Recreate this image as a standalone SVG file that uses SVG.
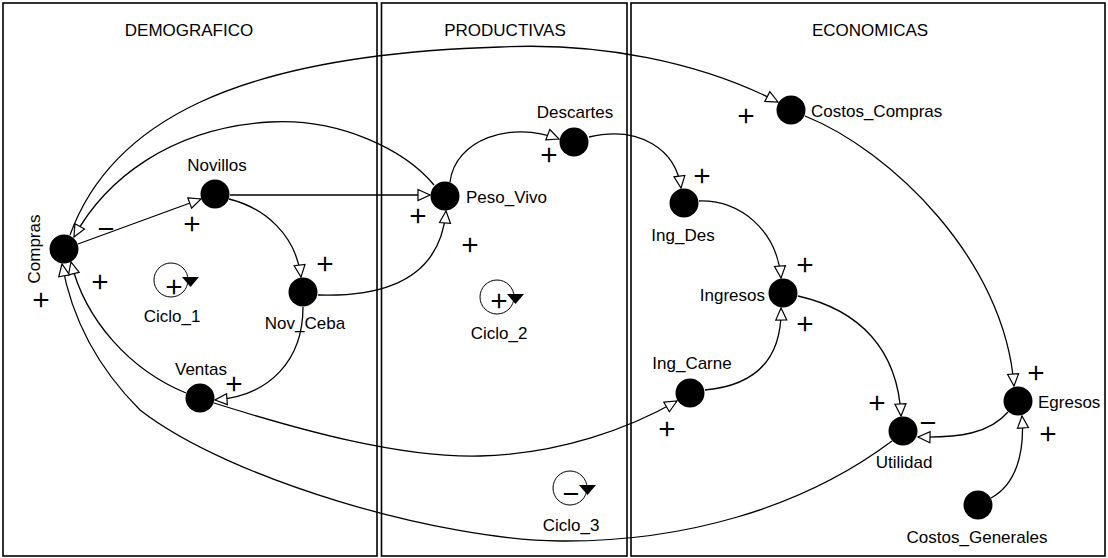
<svg xmlns="http://www.w3.org/2000/svg" width="1108" height="558" viewBox="0 0 1108 558">
<style>
.pn{fill:none;stroke:#000;stroke-width:1.6}
.t{font-family:"Liberation Sans",Arial,sans-serif;font-size:17px;fill:#000}
.c{text-anchor:middle}
.e{text-anchor:end}
.sg{font-family:Inter,"Liberation Sans",Arial,sans-serif;font-weight:300;font-size:32px;fill:#000;text-anchor:middle}
.lk{fill:none;stroke:#000;stroke-width:1.3}
.nd{fill:#000}
.lp{fill:none;stroke:#000;stroke-width:1}
</style>
<defs>
<marker id="ah" markerUnits="userSpaceOnUse" markerWidth="16" markerHeight="14" refX="14" refY="7" orient="auto">
<path d="M2,1.5 L14,7 L2,12.5 Z" fill="#fff" stroke="#000" stroke-width="1.2"/>
</marker>
</defs>
<rect width="1108" height="558" fill="#fff"/>
<g id="panels">
<rect class="pn" x="3" y="3" width="374" height="553"/>
<rect class="pn" x="381.5" y="3" width="245.5" height="553"/>
<rect class="pn" x="631" y="3" width="474" height="553"/>
<text class="t c" x="189" y="36">DEMOGRAFICO</text>
<text class="t c" x="505" y="36">PRODUCTIVAS</text>
<text class="t c" x="870" y="36">ECONOMICAS</text>
</g>
<g id="connectors">
<path class="lk" marker-end="url(#ah)" d="M78,244 L201,199"/>
<path class="lk" marker-end="url(#ah)" d="M434,185 C405,150 340,118 270,122 C170,128 105,180 74,237"/>
<path class="lk" marker-end="url(#ah)" d="M70,235 C110,125 230,55 500,47 C600,42 700,62 778,102"/>
<path class="lk" marker-end="url(#ah)" d="M186,393 C130,370 85,320 71,262"/>
<path class="lk" marker-end="url(#ah)" d="M892,441 C800,510 680,542 560,541 C440,540 230,480 140,410 C100,370 72,320 62,264"/>
<path class="lk" marker-end="url(#ah)" d="M229,199 C265,208 296,235 301,277"/>
<path class="lk" marker-end="url(#ah)" d="M230,195 L430,195"/>
<path class="lk" marker-end="url(#ah)" d="M318,295 C380,297 440,282 446,211"/>
<path class="lk" marker-end="url(#ah)" d="M303,307 C303,360 270,396 215,400"/>
<path class="lk" marker-end="url(#ah)" d="M214,403 C300,430 400,458 480,456 C560,454 630,428 677,401"/>
<path class="lk" marker-end="url(#ah)" d="M450,182 C455,140 510,120 559,139"/>
<path class="lk" marker-end="url(#ah)" d="M589,137 C640,125 676,150 681,188"/>
<path class="lk" marker-end="url(#ah)" d="M699,201 C740,200 777,230 781,278"/>
<path class="lk" marker-end="url(#ah)" d="M705,390 C760,385 782,355 781,308"/>
<path class="lk" marker-end="url(#ah)" d="M798,296 C860,310 898,350 901,416"/>
<path class="lk" marker-end="url(#ah)" d="M805,116 C890,150 1005,260 1014,386"/>
<path class="lk" marker-end="url(#ah)" d="M1008,412 C990,433 960,438 918,437"/>
<path class="lk" marker-end="url(#ah)" d="M991,498 C1015,485 1025,455 1022,416"/>
<text class="sg" x="192" y="233">+</text>
<text class="sg" x="106" y="238">−</text>
<text class="sg" x="100" y="291">+</text>
<text class="sg" x="41" y="309">+</text>
<text class="sg" x="325" y="273">+</text>
<text class="sg" x="418" y="225">+</text>
<text class="sg" x="470" y="254">+</text>
<text class="sg" x="234" y="393">+</text>
<text class="sg" x="667" y="438">+</text>
<text class="sg" x="549" y="164">+</text>
<text class="sg" x="702" y="185">+</text>
<text class="sg" x="746" y="125">+</text>
<text class="sg" x="805" y="274">+</text>
<text class="sg" x="805" y="333">+</text>
<text class="sg" x="877" y="412">+</text>
<text class="sg" x="1036" y="382">+</text>
<text class="sg" x="928" y="432">−</text>
<text class="sg" x="1048" y="443">+</text>
</g>
<g id="Compras"><circle class="nd" cx="64" cy="249" r="14.5"/><text class="t c" transform="translate(40,249) rotate(-90)">Compras</text></g>
<g id="Novillos"><circle class="nd" cx="215" cy="194" r="14.5"/><text class="t c" x="217" y="171">Novillos</text></g>
<g id="Nov_Ceba"><circle class="nd" cx="303" cy="292" r="14.5"/><text class="t c" x="305" y="329">Nov_Ceba</text></g>
<g id="Ventas"><circle class="nd" cx="200" cy="398" r="14.5"/><text class="t c" x="201" y="375">Ventas</text></g>
<g id="Peso_Vivo"><circle class="nd" cx="445" cy="196" r="14.5"/><text class="t" x="466" y="203">Peso_Vivo</text></g>
<g id="Descartes"><circle class="nd" cx="574" cy="142" r="14.5"/><text class="t c" x="575" y="118">Descartes</text></g>
<g id="Costos_Compras"><circle class="nd" cx="791" cy="110" r="14.5"/><text class="t" x="811" y="117">Costos_Compras</text></g>
<g id="Ing_Des"><circle class="nd" cx="684" cy="203" r="14.5"/><text class="t c" x="683" y="241">Ing_Des</text></g>
<g id="Ingresos"><circle class="nd" cx="783" cy="293" r="14.5"/><text class="t e" x="765" y="301">Ingresos</text></g>
<g id="Ing_Carne"><circle class="nd" cx="690" cy="393" r="14.5"/><text class="t c" x="692" y="369">Ing_Carne</text></g>
<g id="Egresos"><circle class="nd" cx="1018" cy="401" r="14.5"/><text class="t" x="1038" y="408">Egresos</text></g>
<g id="Utilidad"><circle class="nd" cx="903" cy="431" r="14.5"/><text class="t c" x="904" y="468">Utilidad</text></g>
<g id="Costos_Generales"><circle class="nd" cx="978" cy="505" r="14.5"/><text class="t c" x="977" y="543">Costos_Generales</text></g>
<g id="Ciclo_1"><circle class="lp" cx="171" cy="280" r="17"/><path class="nd" d="M182,277 L199,277 L190.5,287 Z"/><text class="sg" x="174" y="296">+</text><text class="t c" x="172" y="322">Ciclo_1</text></g>
<g id="Ciclo_2"><circle class="lp" cx="497" cy="297" r="17"/><path class="nd" d="M507,294 L524,294 L515.5,304 Z"/><text class="sg" x="499" y="310">+</text><text class="t c" x="499" y="339">Ciclo_2</text></g>
<g id="Ciclo_3"><circle class="lp" cx="570" cy="488" r="17"/><path class="nd" d="M579,485 L596,485 L587.5,495 Z"/><text class="sg" x="571" y="503">−</text><text class="t c" x="571" y="531">Ciclo_3</text></g>
</svg>
